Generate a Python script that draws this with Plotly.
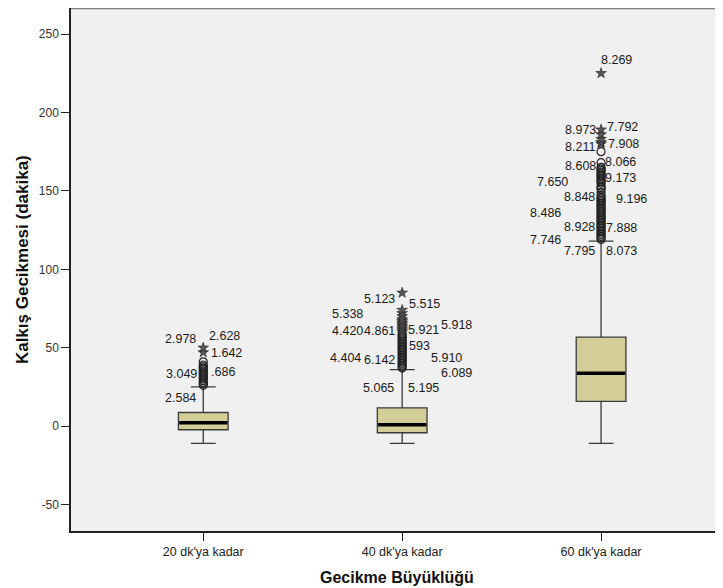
import plotly.graph_objects as go

# ---------------- data ----------------
categories = ["20 dk'ya kadar", "40 dk'ya kadar", "60 dk'ya kadar"]
q1_vals = [-2.3, -4.2, 15.8]
median_vals = [2.2, 0.9, 33.8]
q3_vals = [8.7, 11.7, 56.8]
lower_whisker = [-11, -11, -11]
upper_whisker = [25, 36, 118]

# outliers (circles) and extremes (stars) per group
outliers_g1 = [26, 27, 28, 29, 30, 31, 32, 33, 34, 35, 36, 37, 38, 39, 41]
extremes_g1 = [47, 50]
outliers_g2 = [37, 38, 39, 40, 41, 42, 43, 44, 45, 46, 47, 48, 49, 50, 51, 52,
               53, 54, 55, 56, 57, 58, 59]
extremes_g2 = [60, 61, 62, 63, 64, 65, 66, 67, 68, 70, 72, 74, 85]
outliers_g3 = [119, 120, 121, 122, 123, 124, 125, 126, 127, 128, 129, 130, 131,
               132, 133, 134, 135, 136, 137, 138, 139, 140, 141, 142, 143, 144,
               145, 146, 147, 149, 151, 152, 153, 155, 156, 157, 158, 159, 160,
               161, 162, 163, 164, 165, 168, 175]
extremes_g3 = [180, 181, 183, 186, 189, 225]

# case labels: text, value
labels_g1 = ["2.978", "2.628", "1.642", "3.049", ".686", "2.584"]
label_vals_g1 = [55.8, 57.3, 46.8, 33.4, 34.5, 17.9]
labels_g2 = ["5.123", "5.515", "5.338", "4.420", "4.861", "5.921", "5.918", "593",
             "4.404", "6.142", "5.910", "6.089", "5.065", "5.195"]
label_vals_g2 = [81.3, 78.1, 71.7, 60.6, 60.6, 61.1, 64.7, 50.9,
                 43.7, 41.9, 43.7, 34.1, 24.3, 24.3]
labels_g3 = ["8.269", "8.973", "7.792", "8.211", "7.908", "8.608", "8.066", "9.173",
             "7.650", "8.848", "9.196", "8.486", "8.928", "7.888", "7.746", "7.795",
             "8.073"]
label_vals_g3 = [233.4, 188.7, 190.5, 177.7, 179.8, 165.8, 168.5, 157.9,
                 155.4, 145.8, 144.7, 136.0, 127.0, 126.6, 119.0, 111.5, 111.5]

y_tick_vals = [-50, 0, 50, 100, 150, 200, 250]
y_tick_text = ["-50", "0", "50", "100", "150", "200", "250"]

# ---------------- layout params (pixel offsets for labels) ----------------
label_shift_g1 = [-5, 4, 6, -4, 6, -5]
label_shift_g2 = [-5, 5, -37, -37, -5, 4, 37, 5, -39, -5, 27, 37, -6, 4]
label_shift_g3 = [-2, -3, 4, -4, 5, -3, 2, 2, -31, -4, 13, -38, -4, 3, -38, -4, 3]
label_anchor_g1 = ["right", "left", "left", "right", "left", "right"]
label_anchor_g2 = ["right", "left", "right", "right", "right", "left", "left", "left",
                   "right", "right", "left", "left", "right", "left"]
label_anchor_g3 = ["left", "right", "left", "right", "left", "right", "left", "left",
                   "right", "right", "left", "right", "right", "left", "right", "right",
                   "left"]

BOX_FILL = "#d3ce97"
BOX_LINE = "#3a3a3a"
BOX_W = 0.25
FONT = "Liberation Sans, Arial"

fig = go.Figure()

for i in range(len(categories)):
    fig.add_trace(go.Box(
        x=[i], q1=[q1_vals[i]], median=[median_vals[i]], q3=[q3_vals[i]],
        lowerfence=[lower_whisker[i]], upperfence=[upper_whisker[i]],
        width=BOX_W, whiskerwidth=0.5, fillcolor=BOX_FILL,
        line=dict(color=BOX_LINE, width=1.3), boxpoints=False,
        showlegend=False, hoverinfo="skip"))
    fig.add_trace(go.Scatter(
        x=[i - BOX_W / 2 + 0.004, i + BOX_W / 2 - 0.004],
        y=[median_vals[i], median_vals[i]], mode="lines",
        line=dict(color="black", width=3.5), showlegend=False, hoverinfo="skip"))

outs = [outliers_g1, outliers_g2, outliers_g3]
exts = [extremes_g1, extremes_g2, extremes_g3]
for i in range(len(categories)):
    fig.add_trace(go.Scatter(
        x=[i] * len(outs[i]), y=outs[i], mode="markers",
        marker=dict(symbol="circle-open", size=8, color="#222",
                    line=dict(width=1.2, color="#222")),
        showlegend=False, hoverinfo="skip"))
    fig.add_trace(go.Scatter(
        x=[i] * len(exts[i]), y=exts[i], mode="markers",
        marker=dict(symbol="star", size=8, color="#555",
                    line=dict(width=0.6, color="#222")),
        showlegend=False, hoverinfo="skip"))

annotations = []
groups = [(labels_g1, label_vals_g1, label_shift_g1, label_anchor_g1),
          (labels_g2, label_vals_g2, label_shift_g2, label_anchor_g2),
          (labels_g3, label_vals_g3, label_shift_g3, label_anchor_g3)]
for gi, (txts, vals, shifts, anchors) in enumerate(groups):
    for t, v, s, a in zip(txts, vals, shifts, anchors):
        annotations.append(dict(
            x=gi, y=v, xref="x", yref="y", text=t, showarrow=False,
            xanchor=a, yanchor="middle", xshift=s,
            font=dict(family=FONT, size=12.5, color="#1a1a1a")))

annotations.append(dict(
    x=0.5, y=0, xref="paper", yref="paper", text="<b>Gecikme Büyüklüğü</b>",
    showarrow=False, xanchor="center", yanchor="middle", yshift=-46,
    font=dict(family=FONT, size=16, color="#111")))
annotations.append(dict(
    x=0, y=0.518, xref="paper", yref="paper", text="<b>Kalkış Gecikmesi (dakika)</b>",
    showarrow=False, xanchor="center", yanchor="middle", textangle=-90, xshift=-49,
    font=dict(family=FONT, size=17, color="#111")))

# page body has an 8px margin, so the figure is sized to fit after it
fig.update_layout(
    width=715, height=580,
    margin=dict(l=63, r=0, t=0, b=57),
    paper_bgcolor="white", plot_bgcolor="#f0f0f0",
    annotations=annotations,
    shapes=[dict(type="line", xref="paper", yref="paper", x0=0, x1=1, y0=1, y1=1,
                 line=dict(color="#808080", width=2.5))],
    xaxis=dict(range=[-0.665, 2.613], tickmode="array", tickvals=[0, 1, 2],
               ticktext=categories, ticks="outside", ticklen=8, tickcolor="#222",
               showline=True, linecolor="#222", linewidth=1.5, showgrid=False,
               zeroline=False,
               tickfont=dict(family=FONT, size=12.5, color="#222")),
    yaxis=dict(range=[-66.85, 266.6], tickmode="array", tickvals=y_tick_vals,
               ticktext=y_tick_text,
               ticks="outside", ticklen=8, tickcolor="#222",
               showline=True, linecolor="#222", linewidth=1.5, showgrid=False,
               zeroline=False,
               tickfont=dict(family=FONT, size=12, color="#333")),
)

fig.write_html("out.html")
